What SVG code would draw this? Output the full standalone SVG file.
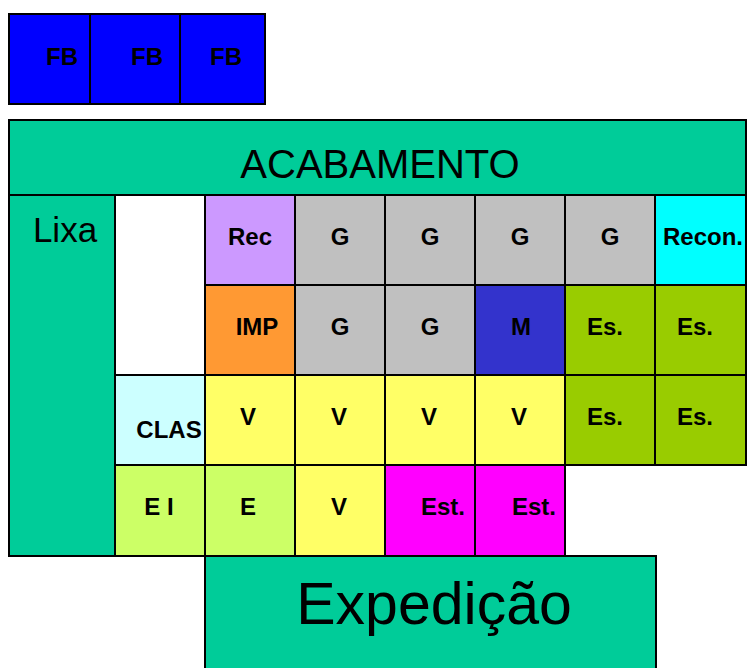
<svg xmlns="http://www.w3.org/2000/svg" width="748" height="668" viewBox="0 0 748 668">
<style>
.c rect{stroke:#000;stroke-width:2}
.b{font-family:"Liberation Sans",Arial,sans-serif;font-weight:bold;font-size:24px;text-anchor:middle;fill:#000}
.r{font-family:"Liberation Sans",Arial,sans-serif;text-anchor:middle;fill:#000}
.fb{fill:#0000FF}.gr{fill:#00CC99}.rec{fill:#CC99FF}.g{fill:#C0C0C0}.cy{fill:#00FFFF}
.imp{fill:#FF9933}.m{fill:#3333CC}.es{fill:#99CC00}.v{fill:#FFFF66}.cl{fill:#CCFFFF}.e{fill:#CCFF66}.st{fill:#FF00FF}
</style>
<rect width="748" height="668" fill="#fff"/>
<g class="c">
<g id="fb1"><rect class="fb" x="9" y="14" width="81" height="90"/><text class="b" x="62" y="65">FB</text></g>
<g id="fb2"><rect class="fb" x="90" y="14" width="90" height="90"/><text class="b" x="147" y="65">FB</text></g>
<g id="fb3"><rect class="fb" x="180" y="14" width="85" height="90"/><text class="b" x="226" y="65">FB</text></g>
<g id="acabamento"><rect class="gr" x="9" y="120" width="737" height="75"/><text class="r" x="380" y="178" font-size="40">ACABAMENTO</text></g>
<g id="lixa"><rect class="gr" x="9" y="195" width="106" height="361"/><text class="r" x="65" y="242" font-size="35">Lixa</text></g>
<g id="blank"><rect fill="#fff" x="115" y="195" width="90" height="180"/></g>
<g id="rec"><rect class="rec" x="205" y="195" width="90" height="90"/><text class="b" x="250" y="245">Rec</text></g>
<g id="g1"><rect class="g" x="295" y="195" width="90" height="90"/><text class="b" x="340" y="245">G</text></g>
<g id="g2"><rect class="g" x="385" y="195" width="90" height="90"/><text class="b" x="430" y="245">G</text></g>
<g id="g3"><rect class="g" x="475" y="195" width="90" height="90"/><text class="b" x="520" y="245">G</text></g>
<g id="g4"><rect class="g" x="565" y="195" width="90" height="90"/><text class="b" x="610" y="245">G</text></g>
<g id="recon"><rect class="cy" x="655" y="195" width="91" height="90"/><text class="b" x="703" y="245">Recon.</text></g>
<g id="imp"><rect class="imp" x="205" y="285" width="90" height="90"/><text class="b" x="257" y="335">IMP</text></g>
<g id="g5"><rect class="g" x="295" y="285" width="90" height="90"/><text class="b" x="340" y="335">G</text></g>
<g id="g6"><rect class="g" x="385" y="285" width="90" height="90"/><text class="b" x="430" y="335">G</text></g>
<g id="m"><rect class="m" x="475" y="285" width="90" height="90"/><text class="b" x="521" y="335">M</text></g>
<g id="es1"><rect class="es" x="565" y="285" width="90" height="90"/><text class="b" x="605" y="335">Es.</text></g>
<g id="es2"><rect class="es" x="655" y="285" width="91" height="90"/><text class="b" x="695" y="335">Es.</text></g>
<g id="clas"><rect class="cl" x="115" y="375" width="90" height="90"/><text class="b" x="169" y="438">CLAS</text></g>
<g id="v1"><rect class="v" x="205" y="375" width="90" height="90"/><text class="b" x="248" y="425">V</text></g>
<g id="v2"><rect class="v" x="295" y="375" width="90" height="90"/><text class="b" x="339" y="425">V</text></g>
<g id="v3"><rect class="v" x="385" y="375" width="90" height="90"/><text class="b" x="429" y="425">V</text></g>
<g id="v4"><rect class="v" x="475" y="375" width="90" height="90"/><text class="b" x="519" y="425">V</text></g>
<g id="es3"><rect class="es" x="565" y="375" width="90" height="90"/><text class="b" x="605" y="425">Es.</text></g>
<g id="es4"><rect class="es" x="655" y="375" width="91" height="90"/><text class="b" x="695" y="425">Es.</text></g>
<g id="ei"><rect class="e" x="115" y="465" width="90" height="91"/><text class="b" x="159" y="515">E I</text></g>
<g id="e"><rect class="e" x="205" y="465" width="90" height="91"/><text class="b" x="248" y="515">E</text></g>
<g id="v5"><rect class="v" x="295" y="465" width="90" height="91"/><text class="b" x="339" y="515">V</text></g>
<g id="est1"><rect class="st" x="385" y="465" width="90" height="91"/><text class="b" x="443" y="515">Est.</text></g>
<g id="est2"><rect class="st" x="475" y="465" width="90" height="91"/><text class="b" x="534" y="515">Est.</text></g>
<g id="expedicao"><rect class="gr" x="205" y="556" width="451" height="120"/><text class="r" x="434" y="624" font-size="59">Expedição</text></g>
</g>
<g id="connectors"/>
</svg>
